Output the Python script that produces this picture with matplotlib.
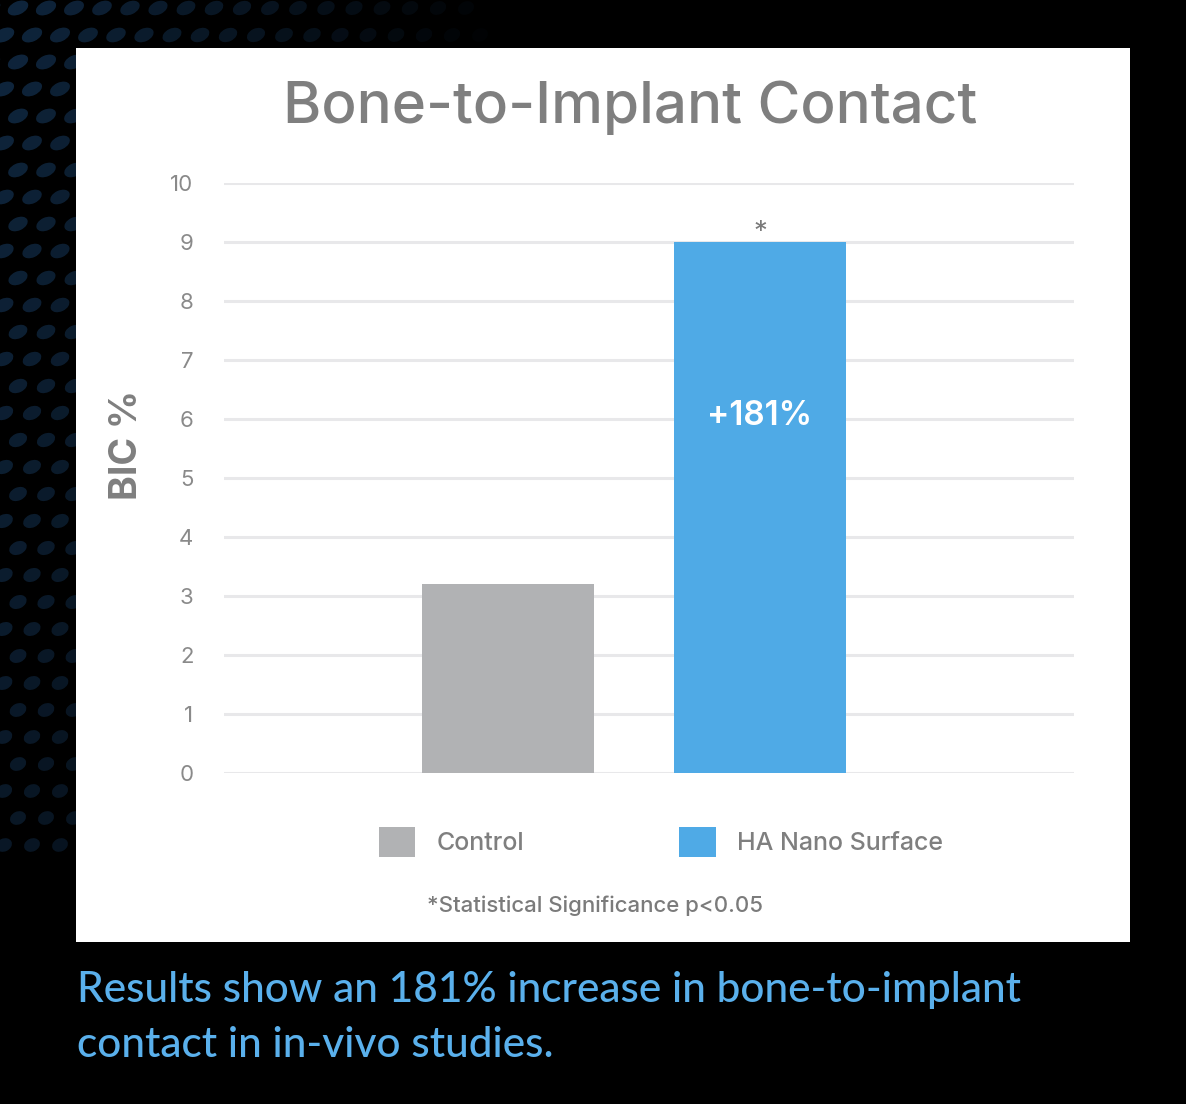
import numpy as np
import matplotlib
matplotlib.use("Agg")
import matplotlib.pyplot as plt
from matplotlib.patches import Rectangle, Ellipse

groups = ["Control", "HA Nano Surface"]
bic = [3.2, 9.0]
bar_colors = ["#b1b2b4", "#4faae6"]
yticks = list(range(0, 11))
title = "Bone-to-Implant Contact"
ylabel = "BIC %"
bar_note = "+181%"
sig_mark = "*"
footnote = "*Statistical Significance p<0.05"
caption = ["Results show an 181% increase in bone-to-implant",
           "contact in in-vivo studies."]

W, H = 1186, 1104
plt.rcParams["font.family"] = ["Inter", "DejaVu Sans"]
fig = plt.figure(figsize=(W / 100, H / 100), dpi=100, facecolor="black")

def fx(px):
    return px / W

def fy(py):
    return 1 - py / H

# halftone dot pattern in the background (decoration only)
bg = fig.add_axes([0, 0, 1, 1], zorder=-10)
bg.set_xlim(0, W)
bg.set_ylim(H, 0)
bg.axis("off")
for row, yy in enumerate(np.arange(8, 850, 27)):
    for xx in np.arange(-10 + (row % 2) * 14, 700, 28):
        d = np.hypot(xx / 520, yy / 900)
        a = 0.8 - 0.85 * (xx / 560) - 0.3 * (yy / 850)
        if a <= 0.05:
            continue
        bg.add_patch(Ellipse((xx, yy), 20 * (1.1 - 0.3 * d), 13, angle=-25,
                             color="#13304e", alpha=min(a, 1.0), lw=0))

# white panel
fig.patches.append(Rectangle((fx(76), fy(942)), fx(1130) - fx(76), fy(48) - fy(942),
                             transform=fig.transFigure, facecolor="white",
                             edgecolor="none", zorder=-5))

ax = fig.add_axes([fx(224), fy(773), fx(1074) - fx(224), fy(183) - fy(773)])
ax.set_facecolor("none")
x = np.arange(len(groups))
ax.bar(x, bic, width=0.683, color=bar_colors, zorder=3)
ax.set_xlim(-1.127, 2.246)
ax.set_ylim(0, 10)
ax.set_yticks(yticks)
ax.set_xticks([])
ax.grid(axis="y", color="#e8e8ea", linewidth=2.2, zorder=0)
for s in ax.spines.values():
    s.set_visible(False)
ax.tick_params(axis="y", length=0, pad=22, labelsize=16, labelcolor="#8a8a8a")

ax.text(x[1], 6.05, bar_note, color="white", fontsize=24, fontweight="semibold",
        ha="center", va="center", zorder=4)
ax.text(x[1], 9.15, sig_mark, color="#7a7a7a", fontsize=20, ha="center",
        va="center", zorder=4)

fig.text(fx(630), fy(108), title, fontsize=42, fontweight="medium", color="#7f7f7f",
         ha="center", va="center")
fig.text(fx(127), fy(445), ylabel, fontsize=27, fontweight="bold", color="#7f7f7f",
         rotation=90, ha="center", va="center")

handles = [Rectangle((0, 0), 1, 1, facecolor=c) for c in bar_colors]
fig.legend(handles, groups, loc="center", bbox_to_anchor=(fx(661), fy(842)),
           ncol=2, frameon=False, prop={"size": 18, "weight": "medium"},
           labelcolor="#7f7f7f", handlelength=1.45, handleheight=1.45,
           handletextpad=0.85, columnspacing=6.2)

fig.text(fx(595), fy(906), footnote, fontsize=16, fontweight="medium",
         color="#7b7b7b", ha="center", va="center")

for i, line in enumerate(caption):
    fig.text(fx(77), fy(990 + 55 * i), line, fontsize=30.5, color="#5ab0ec",
             family=["Lato", "DejaVu Sans"], fontweight="medium",
             ha="left", va="center")

fig.savefig("out.png", dpi=100, facecolor="black")
